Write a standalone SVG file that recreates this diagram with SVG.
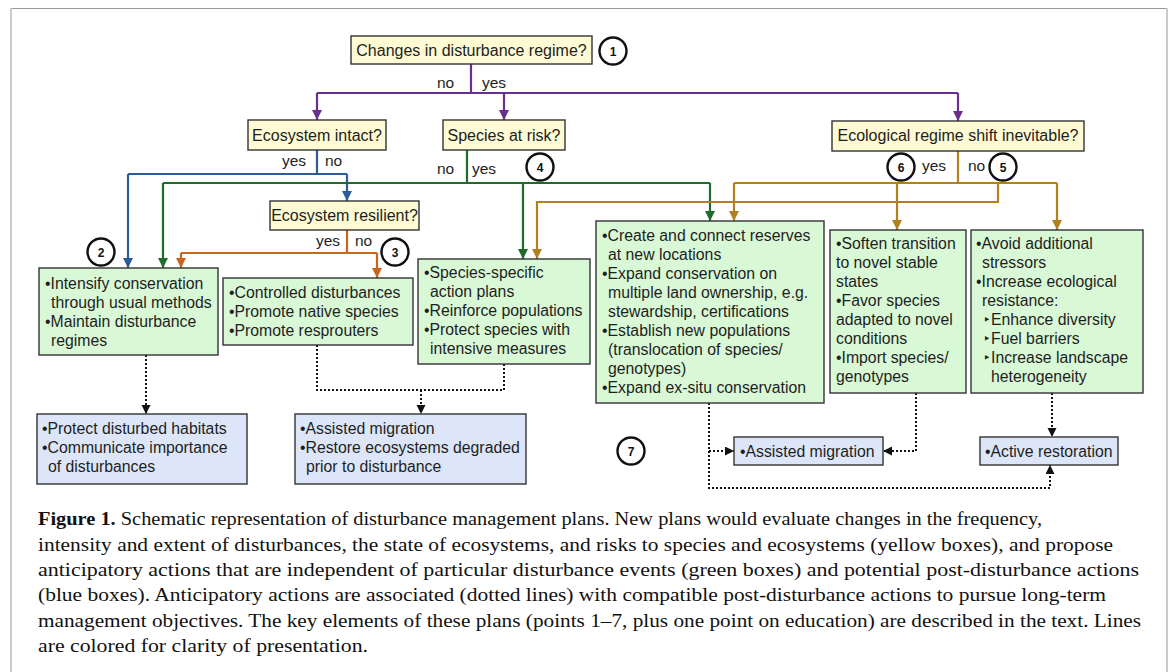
<svg xmlns="http://www.w3.org/2000/svg" width="1170" height="672" viewBox="0 0 1170 672">
<defs>
<style>
.t{font-family:"Liberation Sans",Arial,sans-serif;font-size:15.8px;fill:#1e1e1e}
.q{font-family:"Liberation Sans",Arial,sans-serif;font-size:16px;fill:#1e1e1e;text-anchor:middle}
.lb{font-family:"Liberation Sans",Arial,sans-serif;font-size:15.5px;fill:#1e1e1e}
.tri{font-family:"DejaVu Sans",sans-serif;font-size:13px}
.yel{fill:#fdfad4;stroke:#333;stroke-width:1.4}
.grn{fill:#d9f8d6;stroke:#333;stroke-width:1.4}
.blu{fill:#dce6f8;stroke:#333;stroke-width:1.4}
.num circle{fill:#fff;stroke:#111;stroke-width:2.4}
.num text{font-family:"Liberation Sans",Arial,sans-serif;font-size:12px;font-weight:bold;text-anchor:middle;fill:#111}
.c{fill:none;stroke-width:2.2}
.pu{stroke:#692f8c}.bl{stroke:#2a5d99}.gr{stroke:#1f6b2c}.or{stroke:#c9651f}.go{stroke:#b3801f}
.dot{fill:none;stroke:#111;stroke-width:2;stroke-dasharray:2 2}
.cap{font-family:"Liberation Serif","Times New Roman",serif;font-size:19.5px;fill:#111}
</style>
<marker id="aPu" markerUnits="userSpaceOnUse" markerWidth="11" markerHeight="11" refX="10" refY="5" orient="auto"><path d="M0,0 L10,5 L0,10 z" fill="#692f8c"/></marker>
<marker id="aBl" markerUnits="userSpaceOnUse" markerWidth="11" markerHeight="11" refX="10" refY="5" orient="auto"><path d="M0,0 L10,5 L0,10 z" fill="#2a5d99"/></marker>
<marker id="aGr" markerUnits="userSpaceOnUse" markerWidth="11" markerHeight="11" refX="10" refY="5" orient="auto"><path d="M0,0 L10,5 L0,10 z" fill="#1f6b2c"/></marker>
<marker id="aOr" markerUnits="userSpaceOnUse" markerWidth="11" markerHeight="11" refX="10" refY="5" orient="auto"><path d="M0,0 L10,5 L0,10 z" fill="#c9651f"/></marker>
<marker id="aGo" markerUnits="userSpaceOnUse" markerWidth="11" markerHeight="11" refX="10" refY="5" orient="auto"><path d="M0,0 L10,5 L0,10 z" fill="#b3801f"/></marker>
<marker id="aBk" markerUnits="userSpaceOnUse" markerWidth="10" markerHeight="10" refX="9" refY="4.5" orient="auto"><path d="M0,0 L9,4.5 L0,9 z" fill="#111"/></marker>
</defs>
<rect width="1170" height="672" fill="#fff"/>
<g id="frame">
<line x1="11" y1="8.5" x2="1167" y2="8.5" stroke="#999" stroke-width="1"/>
<line x1="11" y1="8" x2="11" y2="672" stroke="#ccc" stroke-width="2"/>
<line x1="1167" y1="8" x2="1167" y2="672" stroke="#ccc" stroke-width="2"/>
</g>

<g id="connectors">
<path class="c pu" d="M471,64 V93 M317,93 H958"/>
<path class="c pu" d="M317,93 V120" marker-end="url(#aPu)"/>
<path class="c pu" d="M504,93 V120" marker-end="url(#aPu)"/>
<path class="c pu" d="M958,93 V121" marker-end="url(#aPu)"/>
<path class="c bl" d="M317,150 V174 M128,174 H347"/>
<path class="c bl" d="M128,174 V268" marker-end="url(#aBl)"/>
<path class="c bl" d="M347,174 V201" marker-end="url(#aBl)"/>
<path class="c gr" d="M467,150 V183 M163,183 H710"/>
<path class="c gr" d="M163,183 V268" marker-end="url(#aGr)"/>
<path class="c gr" d="M523,183 V259" marker-end="url(#aGr)"/>
<path class="c gr" d="M710,183 V221" marker-end="url(#aGr)"/>
<path class="c or" d="M347,230 V253 M181,253 H377"/>
<path class="c or" d="M181,253 V268" marker-end="url(#aOr)"/>
<path class="c or" d="M377,253 V278" marker-end="url(#aOr)"/>
<path class="c go" d="M958,151 V183 M734,183 H1057"/>
<path class="c go" d="M734,183 V221" marker-end="url(#aGo)"/>
<path class="c go" d="M897,183 V230" marker-end="url(#aGo)"/>
<path class="c go" d="M1057,183 V230" marker-end="url(#aGo)"/>
<path class="c go" d="M998,183 V202 H537 V259" marker-end="url(#aGo)"/>
<path class="dot" d="M146,355 V414" marker-end="url(#aBk)"/>
<path class="dot" d="M317,345 V390 H504 V364"/>
<path class="dot" d="M421,390 V414" marker-end="url(#aBk)"/>
<path class="dot" d="M709,403 V488 H1050 V465" marker-end="url(#aBk)"/>
<path class="dot" d="M709,451 H734" marker-end="url(#aBk)"/>
<path class="dot" d="M916,393 V451 H883" marker-end="url(#aBk)"/>
<path class="dot" d="M1052,393 V437" marker-end="url(#aBk)"/>
</g>

<g id="labels">
<text class="lb" x="437" y="88">no</text>
<text class="lb" x="482" y="88">yes</text>
<text class="lb" x="282" y="166">yes</text>
<text class="lb" x="325" y="166">no</text>
<text class="lb" x="437" y="174">no</text>
<text class="lb" x="472" y="174">yes</text>
<text class="lb" x="316" y="246">yes</text>
<text class="lb" x="355" y="246">no</text>
<text class="lb" x="922" y="171">yes</text>
<text class="lb" x="968" y="171">no</text>
</g>

<g id="q1"><rect class="yel" x="351" y="36" width="241" height="28"/><text class="q" x="471.5" y="56">Changes in disturbance regime?</text></g>
<g id="q2"><rect class="yel" x="248" y="120" width="138" height="30"/><text class="q" x="317" y="141">Ecosystem intact?</text></g>
<g id="q3"><rect class="yel" x="443" y="120" width="122" height="30"/><text class="q" x="504" y="141">Species at risk?</text></g>
<g id="q4"><rect class="yel" x="832" y="121" width="252" height="30"/><text class="q" x="958" y="141">Ecological regime shift inevitable?</text></g>
<g id="q5"><rect class="yel" x="270" y="201" width="149" height="29"/><text class="q" x="344.5" y="221">Ecosystem resilient?</text></g>

<g id="g1"><rect class="grn" x="39" y="268" width="179" height="87"/>
<text class="t"><tspan x="45" y="289">•Intensify conservation</tspan><tspan x="51" y="308">through usual methods</tspan><tspan x="45" y="327">•Maintain disturbance</tspan><tspan x="51" y="346">regimes</tspan></text></g>
<g id="g2"><rect class="grn" x="223" y="278" width="190" height="67"/>
<text class="t"><tspan x="229" y="298">•Controlled disturbances</tspan><tspan x="229" y="317">•Promote native species</tspan><tspan x="229" y="336">•Promote resprouters</tspan></text></g>
<g id="g3"><rect class="grn" x="418" y="259" width="172" height="105"/>
<text class="t"><tspan x="424" y="278">•Species-specific</tspan><tspan x="430" y="297">action plans</tspan><tspan x="424" y="316">•Reinforce populations</tspan><tspan x="424" y="335">•Protect species with</tspan><tspan x="430" y="354">intensive measures</tspan></text></g>
<g id="g4"><rect class="grn" x="596" y="221" width="228" height="182"/>
<text class="t"><tspan x="602" y="241">•Create and connect reserves</tspan><tspan x="608" y="260">at new locations</tspan><tspan x="602" y="279">•Expand conservation on</tspan><tspan x="608" y="298">multiple land ownership, e.g.</tspan><tspan x="608" y="317">stewardship, certifications</tspan><tspan x="602" y="336">•Establish new populations</tspan><tspan x="608" y="355">(translocation of species/</tspan><tspan x="608" y="374">genotypes)</tspan><tspan x="602" y="393">•Expand ex-situ conservation</tspan></text></g>
<g id="g5"><rect class="grn" x="830" y="230" width="136" height="163"/>
<text class="t"><tspan x="836" y="249">•Soften transition</tspan><tspan x="836" y="268">to novel stable</tspan><tspan x="836" y="287">states</tspan><tspan x="836" y="306">•Favor species</tspan><tspan x="836" y="325">adapted to novel</tspan><tspan x="836" y="344">conditions</tspan><tspan x="836" y="363">•Import species/</tspan><tspan x="836" y="382">genotypes</tspan></text></g>
<g id="g6"><rect class="grn" x="971" y="230" width="172" height="163"/>
<text class="t"><tspan x="976" y="249">•Avoid additional</tspan><tspan x="982" y="268">stressors</tspan><tspan x="976" y="287">•Increase ecological</tspan><tspan x="982" y="306">resistance:</tspan><tspan class="tri" x="983" y="324">‣</tspan><tspan x="991" y="325">Enhance diversity</tspan><tspan class="tri" x="983" y="343">‣</tspan><tspan x="991" y="344">Fuel barriers</tspan><tspan class="tri" x="983" y="362">‣</tspan><tspan x="991" y="363">Increase landscape</tspan><tspan x="991" y="382">heterogeneity</tspan></text></g>

<g id="b1"><rect class="blu" x="37" y="414" width="210" height="70"/>
<text class="t"><tspan x="42" y="434">•Protect disturbed habitats</tspan><tspan x="42" y="453">•Communicate importance</tspan><tspan x="48" y="472">of disturbances</tspan></text></g>
<g id="b2"><rect class="blu" x="295" y="414" width="231" height="70"/>
<text class="t"><tspan x="300" y="434">•Assisted migration</tspan><tspan x="300" y="453">•Restore ecosystems degraded</tspan><tspan x="306" y="472">prior to disturbance</tspan></text></g>
<g id="b3"><rect class="blu" x="734" y="437" width="149" height="28"/>
<text class="t" x="740" y="457">•Assisted migration</text></g>
<g id="b4"><rect class="blu" x="980" y="437" width="138" height="28"/>
<text class="t" x="985" y="457">•Active restoration</text></g>

<g id="n1" class="num"><circle cx="613" cy="51" r="13.5"/><text x="613" y="55.5">1</text></g>
<g id="n2" class="num"><circle cx="101" cy="252" r="13.5"/><text x="101" y="256.5">2</text></g>
<g id="n3" class="num"><circle cx="395" cy="252" r="13.5"/><text x="395" y="256.5">3</text></g>
<g id="n4" class="num"><circle cx="540" cy="167" r="13.5"/><text x="540" y="171.5">4</text></g>
<g id="n5" class="num"><circle cx="1003" cy="167" r="13.5"/><text x="1003" y="171.5">5</text></g>
<g id="n6" class="num"><circle cx="901" cy="167" r="13.5"/><text x="901" y="171.5">6</text></g>
<g id="n7" class="num"><circle cx="631" cy="451" r="13.5"/><text x="631" y="455.5">7</text></g>

<g id="caption">
<text class="cap" x="38" y="525" textLength="1004" lengthAdjust="spacingAndGlyphs"><tspan font-weight="bold">Figure 1.</tspan> Schematic representation of disturbance management plans. New plans would evaluate changes in the frequency,</text>
<text class="cap" x="38" y="551" textLength="1075" lengthAdjust="spacingAndGlyphs">intensity and extent of disturbances, the state of ecosystems, and risks to species and ecosystems (yellow boxes), and propose</text>
<text class="cap" x="38" y="576" textLength="1101" lengthAdjust="spacingAndGlyphs">anticipatory actions that are independent of particular disturbance events (green boxes) and potential post-disturbance actions</text>
<text class="cap" x="38" y="601" textLength="1068" lengthAdjust="spacingAndGlyphs">(blue boxes). Anticipatory actions are associated (dotted lines) with compatible post-disturbance actions to pursue long-term</text>
<text class="cap" x="38" y="627" textLength="1103" lengthAdjust="spacingAndGlyphs">management objectives. The key elements of these plans (points 1–7, plus one point on education) are described in the text. Lines</text>
<text class="cap" x="38" y="652" textLength="330" lengthAdjust="spacingAndGlyphs">are colored for clarity of presentation.</text>
</g>
</svg>
